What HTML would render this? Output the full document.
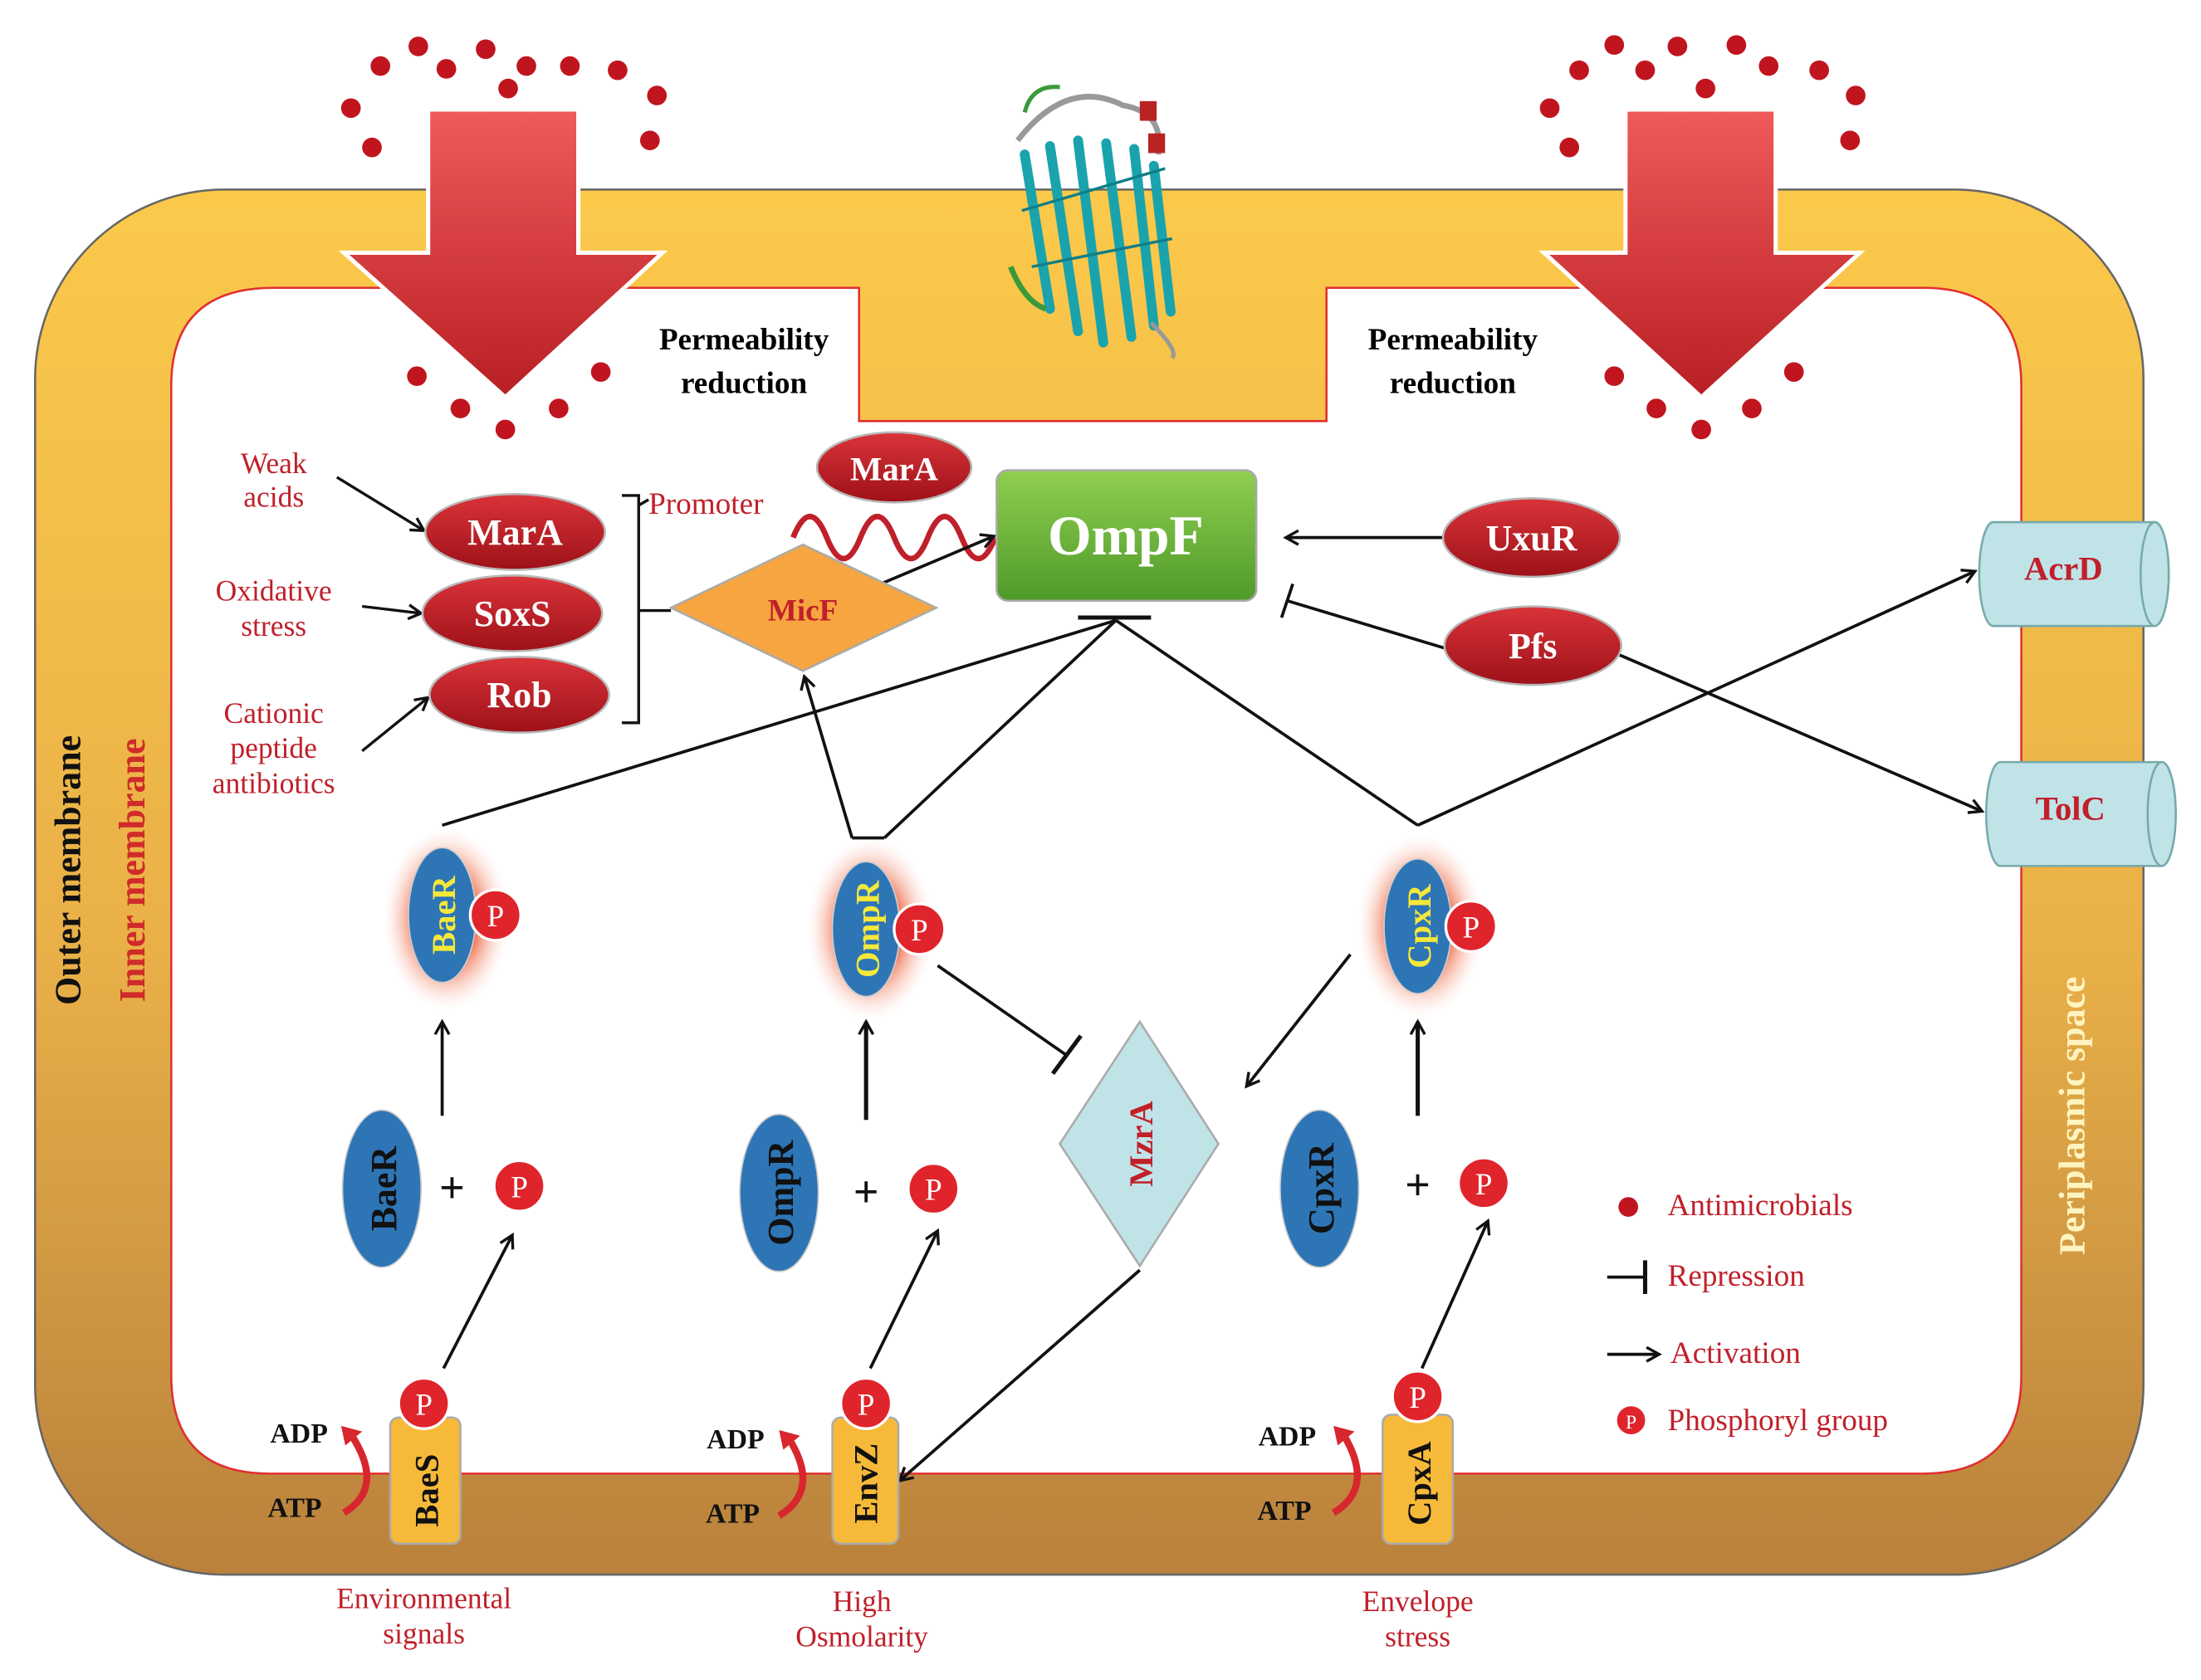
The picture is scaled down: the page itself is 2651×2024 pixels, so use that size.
<!DOCTYPE html>
<html><head><meta charset="utf-8"><style>
html,body{margin:0;padding:0;background:#fff;width:2651px;height:2024px;overflow:hidden}
svg{display:block}
text{font-family:"Liberation Serif",serif}
</style></head><body>
<svg width="2651" height="2024" viewBox="0 0 1568 1197" xmlns="http://www.w3.org/2000/svg">
<defs>
<linearGradient id="mem" x1="0" y1="0" x2="0" y2="1">
<stop offset="0" stop-color="#fbc94a"/><stop offset="0.55" stop-color="#e9b048"/><stop offset="1" stop-color="#b9813c"/></linearGradient>
<linearGradient id="arr" x1="0" y1="0" x2="0" y2="1">
<stop offset="0" stop-color="#f05a5a"/><stop offset="1" stop-color="#b81f24"/></linearGradient>
<linearGradient id="red" x1="0" y1="0" x2="0" y2="1">
<stop offset="0" stop-color="#d9343a"/><stop offset="1" stop-color="#9e1118"/></linearGradient>
<linearGradient id="grn" x1="0" y1="0" x2="0" y2="1">
<stop offset="0" stop-color="#8fcf50"/><stop offset="1" stop-color="#4f9a2a"/></linearGradient>
<radialGradient id="glow"><stop offset="0.5" stop-color="#f07a5a"/><stop offset="1" stop-color="#fde0d8" stop-opacity="0"/></radialGradient>
<marker id="ah" markerWidth="12" markerHeight="12" refX="10" refY="6" orient="auto" markerUnits="userSpaceOnUse">
<path d="M1,1 L10,6 L1,11" fill="none" stroke="#111" stroke-width="2"/></marker>
</defs>
<rect width="1568" height="1197" fill="#fff"/>
<rect x="25" y="135" width="1502" height="987" rx="135" fill="url(#mem)" stroke="#666" stroke-width="1.5"/>
<path d="M195,205 L612,205 L612,300 L945,300 L945,205 L1370,205 Q1440,205 1440,275 L1440,980 Q1440,1050 1370,1050 L192,1050 Q122,1050 122,980 L122,275 Q122,205 195,205 Z" fill="#fff" stroke="#e03030" stroke-width="1.5"/>
<g fill="#c0151f">
<circle cx="298" cy="33" r="7"/><circle cx="271" cy="47" r="7"/><circle cx="318" cy="49" r="7"/><circle cx="346" cy="35" r="7"/><circle cx="375" cy="47" r="7"/><circle cx="406" cy="47" r="7"/><circle cx="440" cy="50" r="7"/><circle cx="250" cy="77" r="7"/><circle cx="362" cy="63" r="7"/><circle cx="468" cy="68" r="7"/><circle cx="265" cy="105" r="7"/><circle cx="463" cy="100" r="7"/>
<circle cx="297" cy="268" r="7"/><circle cx="328" cy="291" r="7"/><circle cx="360" cy="306" r="7"/><circle cx="398" cy="291" r="7"/><circle cx="428" cy="265" r="7"/>
<circle cx="1150" cy="32" r="7"/><circle cx="1195" cy="33" r="7"/><circle cx="1237" cy="32" r="7"/><circle cx="1125" cy="50" r="7"/><circle cx="1172" cy="50" r="7"/><circle cx="1215" cy="63" r="7"/><circle cx="1260" cy="47" r="7"/><circle cx="1296" cy="50" r="7"/><circle cx="1104" cy="77" r="7"/><circle cx="1322" cy="68" r="7"/><circle cx="1118" cy="105" r="7"/><circle cx="1318" cy="100" r="7"/>
<circle cx="1150" cy="268" r="7"/><circle cx="1180" cy="291" r="7"/><circle cx="1212" cy="306" r="7"/><circle cx="1248" cy="291" r="7"/><circle cx="1278" cy="265" r="7"/>
</g>
<path d="M305,78 L412,78 L412,180 L472,180 L360,283 L245,180 L305,180 Z" fill="url(#arr)" stroke="#fff" stroke-width="3"/>
<path d="M1158,78 L1265,78 L1265,180 L1325,180 L1212,283 L1100,180 L1158,180 Z" fill="url(#arr)" stroke="#fff" stroke-width="3"/>
<g>
<g stroke="#1aa3ad" stroke-width="7" fill="none" stroke-linecap="round">
<path d="M730,110 L748,220"/><path d="M748,104 L768,236"/><path d="M768,100 L786,244"/><path d="M788,102 L806,240"/><path d="M808,106 L822,232"/><path d="M822,118 L834,222"/></g>
<g stroke="#0f7e87" stroke-width="2" fill="none"><path d="M728,150 L830,120"/><path d="M735,190 L835,170"/></g>
<path d="M725,100 Q760,55 800,75 Q830,80 825,110" fill="none" stroke="#999" stroke-width="4"/>
<path d="M730,80 Q735,60 755,62" fill="none" stroke="#3a9a3a" stroke-width="3"/>
<rect x="812" y="72" width="12" height="14" fill="#b22"/><rect x="818" y="95" width="12" height="14" fill="#b22"/>
<path d="M720,190 Q730,215 745,220" stroke="#3a9a3a" stroke-width="4" fill="none"/>
<path d="M820,230 Q840,250 835,255" stroke="#999" stroke-width="3" fill="none"/>
</g>
<text x="530" y="249" font-size="22" font-weight="bold" text-anchor="middle">Permeability</text>
<text x="530" y="280" font-size="22" font-weight="bold" text-anchor="middle">reduction</text>
<text x="1035" y="249" font-size="22" font-weight="bold" text-anchor="middle">Permeability</text>
<text x="1035" y="280" font-size="22" font-weight="bold" text-anchor="middle">reduction</text>
<g fill="#c0202a" font-size="21" text-anchor="middle">
<text x="195" y="337">Weak</text><text x="195" y="361">acids</text>
<text x="195" y="428">Oxidative</text><text x="195" y="453">stress</text>
<text x="195" y="515">Cationic</text><text x="195" y="540">peptide</text><text x="195" y="565">antibiotics</text>
<text x="462" y="366" text-anchor="start" font-size="22">Promoter</text>
</g>
<g stroke="#111" stroke-width="2" fill="none">
<line x1="240" y1="340" x2="302" y2="378" marker-end="url(#ah)"/>
<line x1="258" y1="432" x2="300" y2="437" marker-end="url(#ah)"/>
<line x1="258" y1="535" x2="305" y2="497" marker-end="url(#ah)"/>
<path d="M443,353 L455,353 L455,515 L443,515 M455,435 L478,435"/>
<line x1="455" y1="360" x2="462" y2="356"/>
</g>
<path d="M565,383 q12,-30 24,0 t24,0 t24,0 t24,0 t24,0 t24,0" fill="none" stroke="#c0202a" stroke-width="4"/>
<g stroke="#111" stroke-width="2.2" fill="none">
<line x1="618" y1="420" x2="708" y2="382" marker-end="url(#ah)"/>
<line x1="1030" y1="383" x2="916" y2="383" marker-end="url(#ah)"/>
<line x1="1030" y1="462" x2="917" y2="428"/><line x1="913" y1="440" x2="921" y2="416"/>
<line x1="1150" y1="465" x2="1412" y2="578" marker-end="url(#ah)"/>
<line x1="315" y1="588" x2="795" y2="442"/>
<line x1="768" y1="440" x2="820" y2="440" stroke-width="3"/>
<line x1="607" y1="597" x2="573" y2="482" marker-end="url(#ah)"/>
<line x1="607" y1="597" x2="630" y2="597"/>
<line x1="630" y1="597" x2="795" y2="442"/>
<line x1="795" y1="442" x2="1010" y2="588"/>
<line x1="1010" y1="588" x2="1407" y2="407" marker-end="url(#ah)"/>
<line x1="668" y1="688" x2="760" y2="752"/><line x1="750" y1="765" x2="770" y2="738" stroke-width="3"/>
<line x1="962" y1="680" x2="888" y2="774" marker-end="url(#ah)"/>
<line x1="812" y1="905" x2="641" y2="1055" marker-end="url(#ah)"/>
<line x1="315" y1="795" x2="315" y2="728" marker-end="url(#ah)"/>
<line x1="617" y1="798" x2="617" y2="728" marker-end="url(#ah)" stroke-width="3"/>
<line x1="1010" y1="795" x2="1010" y2="728" marker-end="url(#ah)" stroke-width="3"/>
<line x1="316" y1="975" x2="365" y2="880" marker-end="url(#ah)"/>
<line x1="620" y1="975" x2="668" y2="877" marker-end="url(#ah)"/>
<line x1="1013" y1="975" x2="1060" y2="870" marker-end="url(#ah)"/>
</g>
<g stroke="#b8b8b8" stroke-width="1.5">
<ellipse cx="367" cy="379" rx="64" ry="27" fill="url(#red)"/>
<ellipse cx="365" cy="437" rx="64" ry="27" fill="url(#red)"/>
<ellipse cx="370" cy="495" rx="64" ry="27" fill="url(#red)"/>
<ellipse cx="637" cy="333" rx="55" ry="25" fill="url(#red)"/>
<ellipse cx="1091" cy="383" rx="63" ry="28" fill="url(#red)"/>
<ellipse cx="1092" cy="460" rx="63" ry="28" fill="url(#red)"/>
</g>
<g fill="#fff" font-size="26" font-weight="bold" text-anchor="middle">
<text x="367" y="388">MarA</text><text x="365" y="446">SoxS</text><text x="370" y="504">Rob</text>
<text x="637" y="342" font-size="24">MarA</text><text x="1091" y="392">UxuR</text><text x="1092" y="469">Pfs</text>
</g>
<rect x="710" y="335" width="185" height="93" rx="8" fill="url(#grn)" stroke="#aaa" stroke-width="1.5"/>
<text x="802" y="395" fill="#fff" font-size="40" font-weight="bold" text-anchor="middle">OmpF</text>
<path d="M478,433 L572,388 L667,433 L572,478 Z" fill="#f6a540" stroke="#aaa" stroke-width="1.5"/>
<text x="572" y="442" fill="#c0202a" font-size="22" font-weight="bold" text-anchor="middle">MicF</text>
<g fill="#c0e3e8" stroke="#7aa" stroke-width="1.5">
<path d="M1420,372 L1535,372 A10,37 0 0 1 1535,446 L1420,446 A10,37 0 0 1 1420,372 Z"/><ellipse cx="1535" cy="409" rx="10" ry="37"/>
<path d="M1425,543 L1540,543 A10,37 0 0 1 1540,617 L1425,617 A10,37 0 0 1 1425,543 Z"/><ellipse cx="1540" cy="580" rx="10" ry="37"/>
</g>
<text x="1470" y="413" fill="#c0202a" font-size="24" font-weight="bold" text-anchor="middle">AcrD</text>
<text x="1475" y="584" fill="#c0202a" font-size="24" font-weight="bold" text-anchor="middle">TolC</text>
<g>
<ellipse cx="318" cy="655" rx="45" ry="65" fill="url(#glow)"/>
<ellipse cx="620" cy="662" rx="45" ry="65" fill="url(#glow)"/>
<ellipse cx="1012" cy="660" rx="45" ry="65" fill="url(#glow)"/>
<ellipse cx="315" cy="652" rx="24" ry="48" fill="#2e75b6" stroke="#ccc"/>
<ellipse cx="617" cy="662" rx="24" ry="48" fill="#2e75b6" stroke="#ccc"/>
<ellipse cx="1010" cy="660" rx="24" ry="48" fill="#2e75b6" stroke="#ccc"/>
</g>
<g fill="#f5e83a" font-size="24" font-weight="bold" text-anchor="middle">
<text transform="translate(324,652) rotate(-90)">BaeR</text>
<text transform="translate(626,662) rotate(-90)">OmpR</text>
<text transform="translate(1019,660) rotate(-90)">CpxR</text>
</g>
<g fill="#2e75b6" stroke="#ccc">
<ellipse cx="272" cy="847" rx="28" ry="56"/><ellipse cx="555" cy="850" rx="28" ry="56"/><ellipse cx="940" cy="847" rx="28" ry="56"/>
</g>
<g fill="#111" font-size="26" font-weight="bold" text-anchor="middle">
<text transform="translate(282,847) rotate(-90)">BaeR</text>
<text transform="translate(565,850) rotate(-90)">OmpR</text>
<text transform="translate(950,847) rotate(-90)">CpxR</text>
<text x="322" y="857" font-size="32">+</text><text x="617" y="860" font-size="32">+</text><text x="1010" y="855" font-size="32">+</text>
</g>
<path d="M755,815 L812,728 L868,815 L812,902 Z" fill="#c0e3e8" stroke="#aaa" stroke-width="1.5"/>
<text transform="translate(821,815) rotate(-90)" fill="#c0202a" font-size="24" font-weight="bold" text-anchor="middle">MzrA</text>
<g fill="#f6b93a" stroke="#aaa" stroke-width="1.5">
<rect x="278" y="1010" width="50" height="90" rx="6"/><rect x="593" y="1010" width="47" height="90" rx="6"/><rect x="985" y="1008" width="50" height="92" rx="6"/>
</g>
<g fill="#111" font-size="24" font-weight="bold" text-anchor="middle">
<text transform="translate(312,1062) rotate(-90)">BaeS</text>
<text transform="translate(625,1057) rotate(-90)">EnvZ</text>
<text transform="translate(1019,1057) rotate(-90)">CpxA</text>
</g>
<g font-size="20" font-weight="bold" fill="#111" text-anchor="middle">
<text x="213" y="1028">ADP</text><text x="210" y="1081">ATP</text>
<text x="524" y="1032">ADP</text><text x="522" y="1085">ATP</text>
<text x="917" y="1030">ADP</text><text x="915" y="1083">ATP</text>
</g>
<g stroke="#d8262e" stroke-width="5" fill="none">
<path d="M245,1078 Q275,1060 250,1022"/><path d="M555,1080 Q585,1062 562,1025"/><path d="M950,1078 Q980,1060 957,1022"/>
</g>
<g fill="#d8262e"><path d="M243,1016 L258,1020 L246,1030 Z"/><path d="M555,1019 L570,1023 L558,1033 Z"/><path d="M950,1016 L965,1020 L953,1030 Z"/></g>
<g fill="#e0242c" stroke="#fff" stroke-width="2">
<circle cx="353" cy="652" r="18"/><circle cx="655" cy="662" r="18"/><circle cx="1048" cy="660" r="18"/>
<circle cx="370" cy="845" r="18"/><circle cx="665" cy="847" r="18"/><circle cx="1057" cy="843" r="18"/>
<circle cx="302" cy="1000" r="18"/><circle cx="617" cy="1000" r="18"/><circle cx="1010" cy="995" r="18"/>
<circle cx="1162" cy="1012" r="11"/>
</g>
<g fill="#fff" font-size="22" text-anchor="middle">
<text x="353" y="660">P</text><text x="655" y="670">P</text><text x="1048" y="668">P</text>
<text x="370" y="853">P</text><text x="665" y="855">P</text><text x="1057" y="851">P</text>
<text x="302" y="1008">P</text><text x="617" y="1008">P</text><text x="1010" y="1003">P</text>
<text x="1162" y="1018" font-size="14">P</text>
</g>
<g fill="#c0202a" font-size="21" text-anchor="middle">
<text x="302" y="1146">Environmental</text><text x="302" y="1171">signals</text>
<text x="614" y="1148">High</text><text x="614" y="1173">Osmolarity</text>
<text x="1010" y="1148">Envelope</text><text x="1010" y="1173">stress</text>
</g>
<text transform="translate(57,620) rotate(-90)" font-size="26" font-weight="bold" fill="#111" text-anchor="middle">Outer membrane</text>
<text transform="translate(103,620) rotate(-90)" font-size="26" font-weight="bold" fill="#d02a2a" text-anchor="middle">Inner membrane</text>
<text transform="translate(1485,795) rotate(-90)" font-size="26" font-weight="bold" fill="#fff4c0" text-anchor="middle">Periplasmic space</text>
<circle cx="1160" cy="860" r="7" fill="#c0151f"/>
<g fill="#c0202a" font-size="22">
<text x="1188" y="866">Antimicrobials</text><text x="1188" y="916">Repression</text><text x="1190" y="971">Activation</text><text x="1188" y="1019">Phosphoryl group</text>
</g>
<g stroke="#111" stroke-width="2.2" fill="none">
<line x1="1145" y1="910" x2="1172" y2="910"/><line x1="1172" y1="898" x2="1172" y2="922" stroke-width="3"/>
<line x1="1145" y1="965" x2="1182" y2="965" marker-end="url(#ah)"/>
</g>
</svg>
</body></html>
